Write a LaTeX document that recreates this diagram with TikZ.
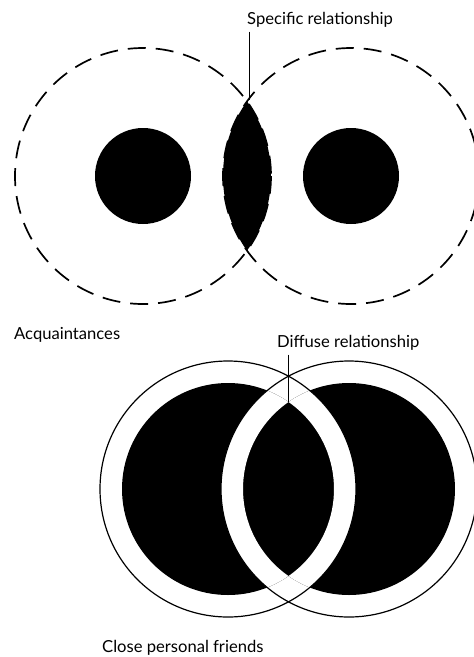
\documentclass[tikz,border=0pt]{standalone}
\usepackage{fontspec}
\setmainfont{Lato}
\usetikzlibrary{positioning}

\begin{document}
\begin{tikzpicture}[
  x=1pt, y=-1pt,
  font=\fontsize{16.6}{19}\selectfont,
  lbl/.style    = {anchor=west, inner sep=0pt},
  halo/.style   = {draw=black, line width=1.7pt, dash pattern=on 18pt off 10pt},
  ringline/.style = {draw=black, line width=1.2pt},
  pointer/.style  = {draw=black, line width=0.9pt},
]
\useasboundingbox (0,0) rectangle (474,657);

% ---- acquaintances
\coordinate (accL) at (143,176);
\coordinate (accR) at (351,176);
\coordinate (lensA) at (249,100);

\draw[halo] (accL) circle (128);
\draw[halo] (accR) circle (128);
\fill (accL) circle (48);
\fill (accR) circle (48);
\begin{scope}
  \clip (accL) circle (128);
  \fill (accR) circle (128);
\end{scope}

\node[lbl] (spec) at (247,20) {Specific relationship};
\draw[pointer, shorten <=4pt] (lensA |- spec.south) -- (lensA);

\node[lbl] (acq) at (14,335) {Acquaintances};

% ---- close personal friends
\coordinate (frL) at (228,489);
\coordinate (frR) at (349,489);
\coordinate (lensB) at (288,402);

\fill (frL) circle (106);
\fill (frR) circle (106);
\begin{scope}
  \clip (frL) circle (106);
  \fill[white, even odd rule] (frR) circle (128) (frR) circle (106);
\end{scope}
\begin{scope}
  \clip (frR) circle (106);
  \fill[white, even odd rule] (frL) circle (128) (frL) circle (106);
\end{scope}
\draw[ringline] (frL) circle (128);
\draw[ringline] (frR) circle (128);

\node[lbl] (diff) at (277,343) {Diffuse relationship};
\draw[pointer, shorten <=4pt] (lensB |- diff.south) -- (lensB);

\node[lbl] (close) at (102,648) {Close personal friends};

\end{tikzpicture}
\end{document}
